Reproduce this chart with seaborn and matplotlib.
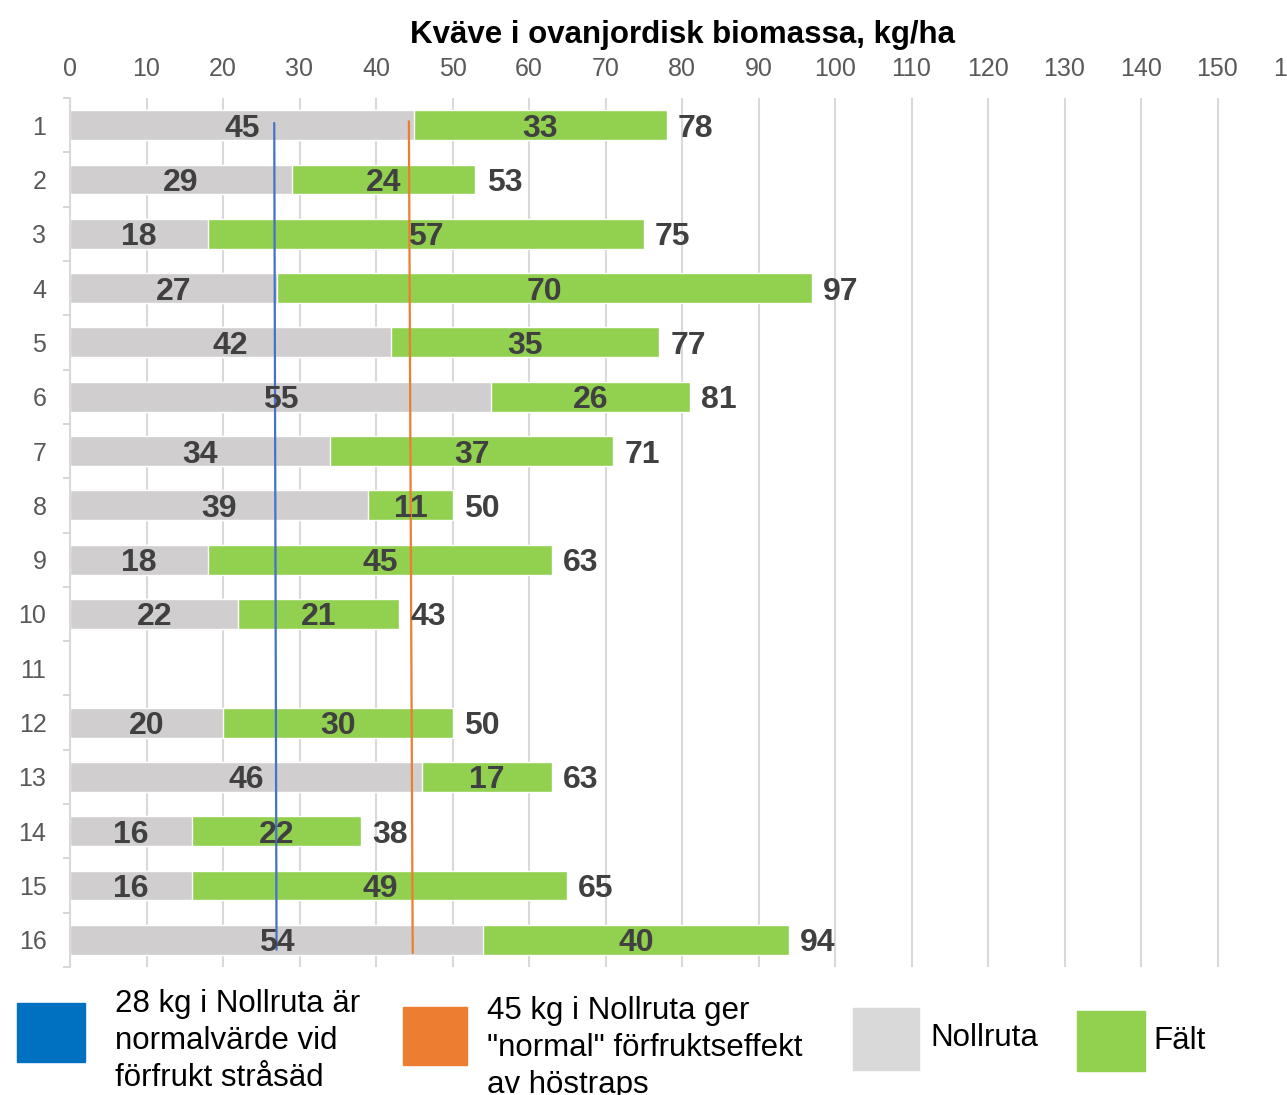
import numpy as np
import pandas as pd
import matplotlib
matplotlib.use("Agg")
import matplotlib.pyplot as plt
from matplotlib.patches import Rectangle
from matplotlib.ticker import FixedLocator
import seaborn as sns

# ── data ─────────────────────────────────────
rows     = [str(i) for i in range(1, 17)]
nollruta = [45, 29, 18, 27, 42, 55, 34, 39, 18, 22, np.nan, 20, 46, 16, 16, 54]
falt     = [33, 24, 57, 70, 35, 26, 37, 11, 45, 21, np.nan, 30, 17, 22, 49, 40]
totals   = [a + b for a, b in zip(nollruta, falt)]

# reference lines (x in kg/ha, y in row numbers)
blue_x   = [26.7, 27.0]
blue_y   = [0.96, 16.18]
orange_x = [44.3, 44.8]
orange_y = [0.93, 16.24]

x_ticks = list(range(0, 161, 10))

GRAY   = "#D0CECE"
GREEN  = "#92D050"
BLUE_L = "#4472C4"
ORANGE = "#ED7D31"
LBL    = "#404040"
TICK   = "#595959"

df = pd.DataFrame({"row": rows, "nollruta": nollruta,
                   "falt": falt, "total": totals})

sns.set_theme(style="white")
plt.rcParams["font.family"] = ["Liberation Sans", "DejaVu Sans"]

fig = plt.figure(figsize=(12.87, 10.95), dpi=100)
ax = fig.add_axes([70 / 1287, 1 - 967 / 1095, 1224 / 1287, 869 / 1095])

# stacked: totals in green underneath, nollruta in gray on top
sns.barplot(data=df, x="total", y="row", order=rows, color=GREEN,
            saturation=1, width=0.55, orient="h", ax=ax, zorder=2)
sns.barplot(data=df, x="nollruta", y="row", order=rows, color=GRAY,
            saturation=1, width=0.55, orient="h", ax=ax, zorder=2)

ax.set_xlim(0, 160)
ax.set_ylim(15.5, -0.5)

# reference lines
ax.plot(blue_x, np.array(blue_y) - 1, color=BLUE_L, lw=1.6, zorder=3)
ax.plot(orange_x, np.array(orange_y) - 1, color=ORANGE, lw=1.6, zorder=3)

# labels
FS = 23
for i, (n, f, t) in enumerate(zip(nollruta, falt, totals)):
    if np.isnan(n):
        continue
    ax.text(n / 2, i, f"{n:.0f}", ha="center", va="center_baseline",
            fontsize=FS, fontweight="bold", color=LBL, zorder=4)
    ax.text(n + f / 2, i, f"{f:.0f}", ha="center", va="center_baseline",
            fontsize=FS, fontweight="bold", color=LBL, zorder=4)
    ax.annotate(f"{t:.0f}", (t, i), xytext=(8, 0), textcoords="offset points",
                ha="left", va="center_baseline", fontsize=FS,
                fontweight="bold", color=LBL, zorder=4)

# axes styling
ax.xaxis.tick_top()
ax.xaxis.set_label_position("top")
ax.set_xticks(x_ticks)
ax.tick_params(axis="x", length=0, labelsize=18, labelcolor=TICK, pad=12)
ax.tick_params(axis="y", which="major", length=0, labelsize=18,
               labelcolor=TICK, pad=17)
ax.yaxis.set_minor_locator(FixedLocator(np.arange(-0.5, 16, 1)))
ax.tick_params(axis="y", which="minor", length=5, width=1.2, color="#D0D0D0",
               left=True)
ax.set_ylabel("")
ax.set_xlabel("Kväve i ovanjordisk biomassa, kg/ha", fontsize=22.5,
              fontweight="bold", color="black", labelpad=10)
ax.grid(axis="x", color="#D9D9D9", lw=1.5, zorder=0)
ax.grid(axis="y", visible=False)
ax.set_axisbelow(True)
for s in ["top", "right", "bottom"]:
    ax.spines[s].set_visible(False)
ax.spines["left"].set_color("#D9D9D9")
ax.spines["left"].set_linewidth(1.5)

# legend drawn by hand at the bottom
W, H = 1287, 1095
def box(x0, y0, x1, y1, color):
    fig.patches.append(Rectangle((x0 / W, 1 - y1 / H), (x1 - x0) / W,
                                 (y1 - y0) / H, transform=fig.transFigure,
                                 color=color, zorder=5))

def label(x, y, s):
    fig.text(x / W, 1 - y / H, s, fontsize=22.5, color="black", ha="left",
             va="top", linespacing=1.3)

box(17, 1003, 85, 1062, "#0070C0")
label(115, 989, "28 kg i Nollruta är\nnormalvärde vid\nförfrukt stråsäd")
box(403, 1007, 467, 1065, ORANGE)
label(487, 996, "45 kg i Nollruta ger\n\"normal\" förfruktseffekt\nav höstraps")
box(853, 1008, 919, 1070, "#D9D9D9")
label(930, 1023, "Nollruta")
box(1077, 1011, 1145, 1071, GREEN)
label(1153, 1026, "Fält")

fig.savefig("out.png", dpi=100)
